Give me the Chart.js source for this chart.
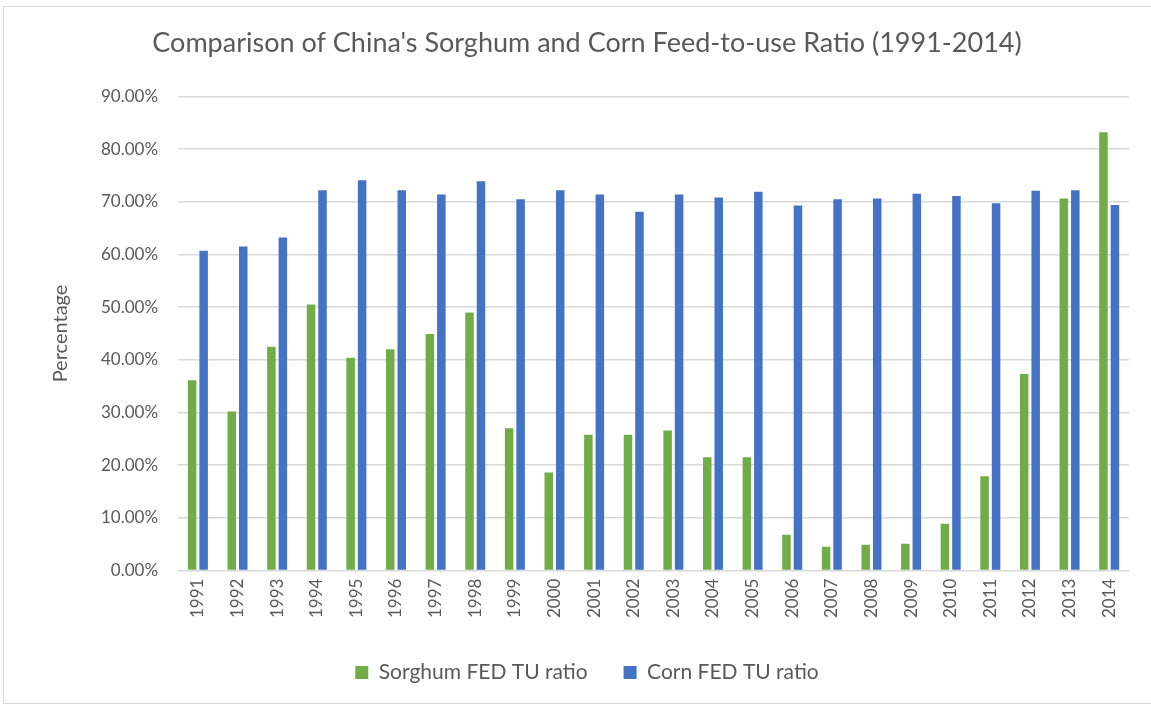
<!DOCTYPE html>
<html>
<head>
<meta charset="utf-8">
<script src="https://cdn.jsdelivr.net/npm/chart.js@4/dist/chart.umd.min.js"></script>
<style>
  html, body { margin: 0; padding: 0; background: #fff; }
  #wrap { position: relative; width: 1151px; height: 708px; }
  #frame { position: absolute; left: 3px; top: 6px; width: 1160px; height: 696px; border: 1px solid #d9d9d9; }
  canvas { position: absolute; left: 0; top: 0; }
</style>
</head>
<body>
<div id="wrap">
  <div id="frame"></div>
  <canvas id="chart" width="1151" height="708"></canvas>
</div>
<script>
const years = ['1991', '1992', '1993', '1994', '1995', '1996', '1997', '1998', '1999', '2000', '2001', '2002',
  '2003', '2004', '2005', '2006', '2007', '2008', '2009', '2010', '2011', '2012', '2013', '2014'];

// percent values
const sorghum = [36.1, 30.2, 42.5, 50.5, 40.4, 42.0, 44.9, 49.0, 27.0, 18.6, 25.8, 25.8,
  26.6, 21.5, 21.5, 6.8, 4.5, 4.9, 5.1, 8.9, 17.9, 37.3, 70.6, 83.2];
const corn = [60.7, 61.5, 63.2, 72.2, 74.1, 72.2, 71.4, 73.9, 70.5, 72.2, 71.4, 68.1,
  71.4, 70.8, 71.9, 69.3, 70.5, 70.6, 71.5, 71.1, 69.7, 72.1, 72.2, 69.4];

const FONT = 'Lato, "Open Sans", sans-serif';
const GREY = '#595959';

const ctx = document.getElementById('chart').getContext('2d');

new Chart(ctx, {
  type: 'bar',
  data: {
    labels: years,
    datasets: [
      { label: 'Sorghum FED TU ratio', data: sorghum, backgroundColor: '#70ad47' },
      { label: 'Corn FED TU ratio', data: corn, backgroundColor: '#4472c4' },
    ],
  },
  options: {
    responsive: false,
    animation: false,
    categoryPercentage: 0.58,
    barPercentage: 0.74,
    layout: { padding: { top: 11, left: 45, right: 22, bottom: 15 } },
    plugins: {
      title: {
        display: true,
        text: "Comparison of China's Sorghum and Corn Feed-to-use Ratio (1991-2014)",
        color: GREY,
        font: { family: FONT, size: 27, weight: 'normal' },
        padding: { top: 16, bottom: 37 },
      },
      legend: {
        position: 'bottom',
        labels: {
          color: GREY,
          font: { family: FONT, size: 21 },
          boxWidth: 13,
          boxHeight: 13,
          padding: 36,
        },
      },
      tooltip: { enabled: false },
    },
    scales: {
      x: {
        grid: { display: false, drawTicks: false },
        border: { display: false },
        ticks: {
          color: GREY,
          font: { family: FONT, size: 17 },
          maxRotation: 90,
          minRotation: 90,
          padding: 8,
        },
      },
      y: {
        min: 0,
        max: 90,
        grid: { color: '#d9d9d9', lineWidth: 1.4, drawTicks: false },
        border: { display: false },
        ticks: {
          stepSize: 10,
          color: GREY,
          font: { family: FONT, size: 17 },
          padding: 20,
          callback: (v) => v.toFixed(2) + '%',
        },
        title: {
          display: true,
          text: 'Percentage',
          color: GREY,
          font: { family: FONT, size: 20 },
          padding: { bottom: 8 },
        },
      },
    },
  },
});
</script>
</body>
</html>
